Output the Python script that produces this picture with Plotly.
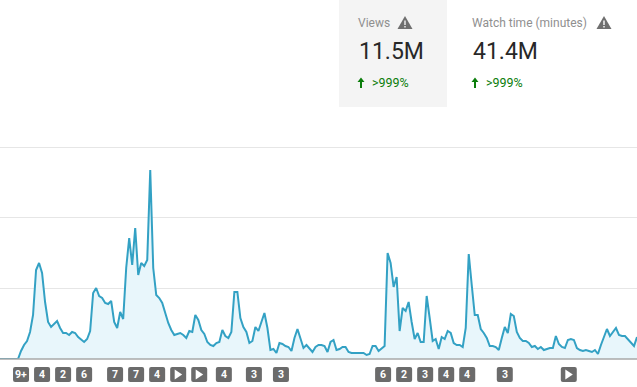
import plotly.graph_objects as go

W, H = 637, 387
BASE, TOP = 359, 135

views = [
    0,0,0,0,0,0,0,8,14,18,27,44,89,96,86,57,37,32,35,38,31,26,26,24,27,26,22,19,17,20,28,66,71,63,61,56,55,58,37,31,47,40,91,121,94,131,84,96,93,99,
    189,91,64,61,56,46,36,29,24,25,26,24,21,28,27,44,39,29,25,17,14,13,16,17,29,23,21,27,67,67,41,32,27,16,18,32,28,37,46,31,9,10,6,16,15,13,12,8,21,30,
    21,11,14,10,7,12,14,14,13,7,17,19,9,10,12,12,7,6,6,6,6,6,4,5,13,13,8,11,13,106,96,72,82,28,51,48,57,37,20,26,17,17,63,41,18,20,10,22,20,28,
    26,16,14,14,12,31,105,74,44,44,30,26,21,13,13,12,9,21,32,26,45,43,27,21,18,18,16,12,13,10,12,9,10,11,11,23,15,12,11,19,20,19,11,9,8,9,8,7,9,5,
    14,22,30,23,27,31,24,23,23,20,16,13,22,
]
days = list(range(len(views)))
grid_ticks = [70.67, 141.33, 212]
X_MAX = 212
Y_MAX = BASE - TOP

badge_days = [7, 14, 21, 28, 38.3, 45.3, 52.3, 59.3, 66.3, 74.5, 84.5, 93.5, 127.5, 134.5, 141.5, 148.5, 155.5, 168, 189.3]
badge_labels = ["9+", "4", "2", "6", "7", "7", "4", "play", "play", "4", "3", "3", "6", "2", "3", "4", "4", "3", "play"]

PH = BASE - TOP
def px(x): return x / W
def py(y): return (BASE - y) / PH
def P(x, y): return f"{px(x):.5f},{py(y):.5f}"

shapes, annos = [], []

# metric card background
shapes.append(dict(type="rect", xref="paper", yref="paper", x0=px(339), x1=px(447), y0=py(107), y1=py(0),
                   fillcolor="#f4f4f4", line_width=0, layer="below"))

def warn(cx):
    shapes.append(dict(type="path", xref="paper", yref="paper",
                       path=f"M{P(cx-7.5,29)} L{P(cx,16)} L{P(cx+7.5,29)} Z", fillcolor="#6f6f6f", line_width=0))
    shapes.append(dict(type="rect", xref="paper", yref="paper", x0=px(cx-0.7), x1=px(cx+0.7), y0=py(25), y1=py(20.5),
                       fillcolor="#f4f4f4" if cx < 447 else "#ffffff", line_width=0))
    shapes.append(dict(type="rect", xref="paper", yref="paper", x0=px(cx-0.7), x1=px(cx+0.7), y0=py(27.6), y1=py(26),
                       fillcolor="#f4f4f4" if cx < 447 else "#ffffff", line_width=0))

def arrow(cx):
    shapes.append(dict(type="path", xref="paper", yref="paper",
                       path=f"M{P(cx-3.5,82)} L{P(cx,77.5)} L{P(cx+3.5,82)} L{P(cx+1,82)} L{P(cx+1,88)} L{P(cx-1,88)} L{P(cx-1,82)} Z",
                       fillcolor="#0b7d0b", line_width=0))

def label(x, y, text, size, color):
    annos.append(dict(xref="paper", yref="paper", x=px(x), y=py(y), text=text, showarrow=False,
                      xanchor="left", yanchor="middle", xshift=-1, font=dict(family="Roboto", size=size, color=color)))

label(357, 22.5, "Views", 12, "#8f8f8f")
label(471, 22.5, "Watch time (minutes)", 12, "#8f8f8f")
label(358, 51, "11.5M", 23, "#282828")
label(472, 51, "41.4M", 23, "#282828")
label(371, 82.5, "&gt;999%", 12.5, "#0b7d0b")
label(485, 82.5, "&gt;999%", 12.5, "#0b7d0b")
warn(405)
warn(604)
arrow(361)
arrow(475)

# event badges
for d, lab in zip(badge_days, badge_labels):
    c = d * W / X_MAX
    l, r, t, b, k = c - 8, c + 8, 367, 382, 2
    path = (f"M{P(l+k,t)} L{P(r-k,t)} Q{P(r,t)} {P(r,t+k)} L{P(r,b-k)} Q{P(r,b)} {P(r-k,b)} "
            f"L{P(l+k,b)} Q{P(l,b)} {P(l,b-k)} L{P(l,t+k)} Q{P(l,t)} {P(l+k,t)} Z")
    shapes.append(dict(type="path", xref="paper", yref="paper", path=path, fillcolor="#6b6b6b", line_width=0))
    if lab == "play":
        shapes.append(dict(type="path", xref="paper", yref="paper",
                           path=f"M{P(c-3.5,369.5)} L{P(c+4,374.5)} L{P(c-3.5,379.5)} Z", fillcolor="#ffffff", line_width=0))
    else:
        annos.append(dict(xref="paper", yref="paper", x=px(c), y=py(374.8), text=f"<b>{lab}</b>", showarrow=False,
                          xanchor="center", yanchor="middle", font=dict(family="Roboto", size=10.5, color="#ffffff")))

# baseline
shapes.append(dict(type="line", xref="paper", yref="paper", x0=0, x1=1, y0=0, y1=0, line=dict(color="#a8a8a8", width=1.5)))

fig = go.Figure(go.Scatter(x=days, y=views, mode="lines", line=dict(color="#33a1c4", width=2),
                           fill="tozeroy", fillcolor="#e8f6fb", hoverinfo="skip"))
fig.update_layout(
    width=W, height=H, margin=dict(l=0, r=0, t=TOP, b=H - BASE),
    paper_bgcolor="#ffffff", plot_bgcolor="#ffffff", showlegend=False,
    shapes=shapes, annotations=annos,
    xaxis=dict(range=[0, X_MAX], showgrid=False, zeroline=False, showticklabels=False, ticks=""),
    yaxis=dict(range=[0, Y_MAX], tickvals=grid_ticks, showgrid=True, gridcolor="#e6e6e6", gridwidth=1,
               zeroline=False, showticklabels=False, ticks=""),
)
fig.write_html("out.html", config=dict(displayModeBar=False),
               post_script="document.body.style.margin='0';document.documentElement.style.overflow='hidden';")
